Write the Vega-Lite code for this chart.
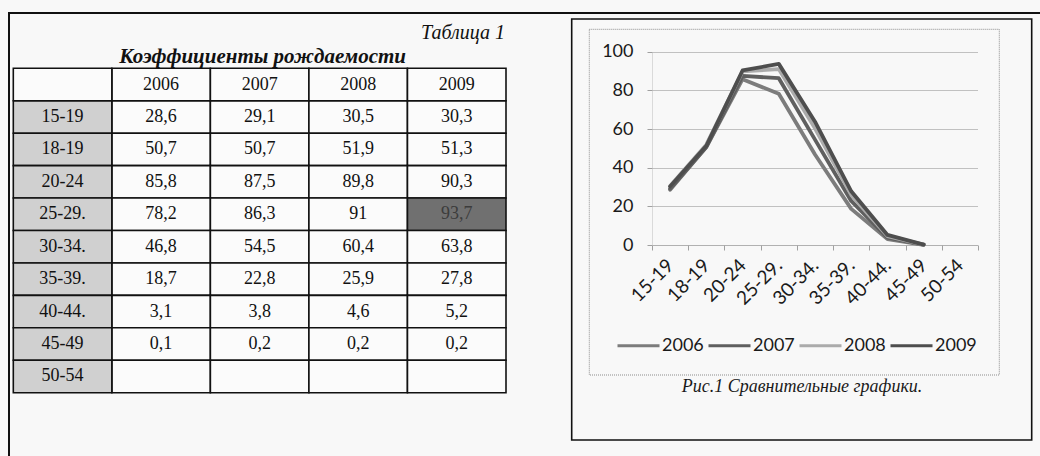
{
  "$schema": "https://vega.github.io/schema/vega-lite/v6.json",
  "width": 1037,
  "height": 449,
  "autosize": {"type": "none"},
  "padding": {"left": 9, "top": 13, "right": -6, "bottom": -6},
  "background": "#f8f8f8",
  "view": {"stroke": "#111111", "strokeWidth": 2},
  "config": {
    "locale": {"number": {"decimal": ",", "thousands": " ", "grouping": [3], "currency": ["", ""]}},
    "font": "Liberation Serif"
  },
  "datasets": {
    "rates": [
      {"age": "15-19", "year": "2006", "rate": 28.6},
      {"age": "15-19", "year": "2007", "rate": 29.1},
      {"age": "15-19", "year": "2008", "rate": 30.5},
      {"age": "15-19", "year": "2009", "rate": 30.3},
      {"age": "18-19", "year": "2006", "rate": 50.7},
      {"age": "18-19", "year": "2007", "rate": 50.7},
      {"age": "18-19", "year": "2008", "rate": 51.9},
      {"age": "18-19", "year": "2009", "rate": 51.3},
      {"age": "20-24", "year": "2006", "rate": 85.8},
      {"age": "20-24", "year": "2007", "rate": 87.5},
      {"age": "20-24", "year": "2008", "rate": 89.8},
      {"age": "20-24", "year": "2009", "rate": 90.3},
      {"age": "25-29.", "year": "2006", "rate": 78.2},
      {"age": "25-29.", "year": "2007", "rate": 86.3},
      {"age": "25-29.", "year": "2008", "rate": 91},
      {"age": "25-29.", "year": "2009", "rate": 93.7},
      {"age": "30-34.", "year": "2006", "rate": 46.8},
      {"age": "30-34.", "year": "2007", "rate": 54.5},
      {"age": "30-34.", "year": "2008", "rate": 60.4},
      {"age": "30-34.", "year": "2009", "rate": 63.8},
      {"age": "35-39.", "year": "2006", "rate": 18.7},
      {"age": "35-39.", "year": "2007", "rate": 22.8},
      {"age": "35-39.", "year": "2008", "rate": 25.9},
      {"age": "35-39.", "year": "2009", "rate": 27.8},
      {"age": "40-44.", "year": "2006", "rate": 3.1},
      {"age": "40-44.", "year": "2007", "rate": 3.8},
      {"age": "40-44.", "year": "2008", "rate": 4.6},
      {"age": "40-44.", "year": "2009", "rate": 5.2},
      {"age": "45-49", "year": "2006", "rate": 0.1},
      {"age": "45-49", "year": "2007", "rate": 0.2},
      {"age": "45-49", "year": "2008", "rate": 0.2},
      {"age": "45-49", "year": "2009", "rate": 0.2},
      {"age": "50-54", "year": "2006", "rate": null},
      {"age": "50-54", "year": "2007", "rate": null},
      {"age": "50-54", "year": "2008", "rate": null},
      {"age": "50-54", "year": "2009", "rate": null}
    ]
  },
  "layer": [
    {
      "data": {"values": [{"box": "textbox"}]},
      "mark": {"type": "rect", "fill": "transparent", "stroke": "#111111", "strokeWidth": 1.6},
      "encoding": {
        "x": {"field": "box", "type": "nominal", "scale": {"type": "band", "range": [562.7, 1022.7], "paddingInner": 0, "paddingOuter": 0}, "axis": null},
        "y": {"field": "box", "type": "nominal", "scale": {"type": "band", "range": [6, 427], "paddingInner": 0, "paddingOuter": 0}, "axis": null}
      }
    },
    {
      "data": {"values": [{"box": "chartarea"}]},
      "mark": {"type": "rect", "fill": "transparent", "stroke": "#8c8c8c", "strokeWidth": 1, "strokeDash": [1, 1]},
      "encoding": {
        "x": {"field": "box", "type": "nominal", "scale": {"type": "band", "range": [580.3, 990.3], "paddingInner": 0, "paddingOuter": 0}, "axis": null},
        "y": {"field": "box", "type": "nominal", "scale": {"type": "band", "range": [16.3, 362], "paddingInner": 0, "paddingOuter": 0}, "axis": null}
      }
    },
    {
      "data": {"name": "rates"},
      "transform": [{"joinaggregate": [{"op": "max", "field": "rate", "as": "maxRate"}]}],
      "mark": {"type": "rect", "stroke": "#111111", "strokeWidth": 1.6},
      "encoding": {
        "x": {"field": "year", "type": "nominal", "scale": {"type": "band", "domain": ["age", "2006", "2007", "2008", "2009"], "range": [4.3, 497], "paddingInner": 0, "paddingOuter": 0}, "axis": null},
        "y": {"field": "age", "type": "nominal", "scale": {"type": "band", "domain": ["header", "15-19", "18-19", "20-24", "25-29.", "30-34.", "35-39.", "40-44.", "45-49", "50-54"], "range": [55.3, 379.7], "paddingInner": 0, "paddingOuter": 0}, "axis": null},
        "fill": {"condition": {"test": "datum.rate === datum.maxRate", "value": "#707070"}, "value": "#fbfbfb"}
      }
    },
    {
      "data": {"name": "rates"},
      "transform": [{"aggregate": [{"op": "count", "as": "n"}], "groupby": ["year"]}],
      "mark": {"type": "rect", "stroke": "#111111", "strokeWidth": 1.6, "fill": "#fbfbfb"},
      "encoding": {
        "x": {"field": "year", "type": "nominal", "scale": {"type": "band", "domain": ["age", "2006", "2007", "2008", "2009"], "range": [4.3, 497], "paddingInner": 0, "paddingOuter": 0}, "axis": null},
        "y": {"datum": "header", "type": "nominal", "scale": {"type": "band", "domain": ["header", "15-19", "18-19", "20-24", "25-29.", "30-34.", "35-39.", "40-44.", "45-49", "50-54"], "range": [55.3, 379.7], "paddingInner": 0, "paddingOuter": 0}, "axis": null}
      }
    },
    {
      "data": {"name": "rates"},
      "transform": [{"aggregate": [{"op": "count", "as": "n"}], "groupby": ["age"]}],
      "mark": {"type": "rect", "stroke": "#111111", "strokeWidth": 1.6, "fill": "#d0d0d0"},
      "encoding": {
        "x": {"datum": "age", "type": "nominal", "scale": {"type": "band", "domain": ["age", "2006", "2007", "2008", "2009"], "range": [4.3, 497], "paddingInner": 0, "paddingOuter": 0}, "axis": null},
        "y": {"field": "age", "type": "nominal", "scale": {"type": "band", "domain": ["header", "15-19", "18-19", "20-24", "25-29.", "30-34.", "35-39.", "40-44.", "45-49", "50-54"], "range": [55.3, 379.7], "paddingInner": 0, "paddingOuter": 0}, "axis": null}
      }
    },
    {
      "data": {"values": [{"corner": ""}]},
      "mark": {"type": "rect", "stroke": "#111111", "strokeWidth": 1.6, "fill": "#fbfbfb"},
      "encoding": {
        "x": {"datum": "age", "type": "nominal", "scale": {"type": "band", "domain": ["age", "2006", "2007", "2008", "2009"], "range": [4.3, 497], "paddingInner": 0, "paddingOuter": 0}, "axis": null},
        "y": {"datum": "header", "type": "nominal", "scale": {"type": "band", "domain": ["header", "15-19", "18-19", "20-24", "25-29.", "30-34.", "35-39.", "40-44.", "45-49", "50-54"], "range": [55.3, 379.7], "paddingInner": 0, "paddingOuter": 0}, "axis": null}
      }
    },
    {
      "data": {"name": "rates"},
      "transform": [{"filter": "isValid(datum.rate)"}, {"joinaggregate": [{"op": "max", "field": "rate", "as": "maxRate"}]}],
      "mark": {"type": "text", "font": "Liberation Serif", "fontSize": 18, "baseline": "middle", "align": "center"},
      "encoding": {
        "x": {"field": "year", "type": "nominal", "bandPosition": 0.5, "scale": {"type": "band", "domain": ["age", "2006", "2007", "2008", "2009"], "range": [4.3, 497], "paddingInner": 0, "paddingOuter": 0}, "axis": null},
        "y": {"field": "age", "type": "nominal", "bandPosition": 0.5, "scale": {"type": "band", "domain": ["header", "15-19", "18-19", "20-24", "25-29.", "30-34.", "35-39.", "40-44.", "45-49", "50-54"], "range": [55.3, 379.7], "paddingInner": 0, "paddingOuter": 0}, "axis": null},
        "text": {"field": "rate", "type": "quantitative", "format": "~g"},
        "color": {"condition": {"test": "datum.rate === datum.maxRate", "value": "#3c3c3c"}, "value": "#111111"}
      }
    },
    {
      "data": {"name": "rates"},
      "transform": [{"aggregate": [{"op": "count", "as": "n"}], "groupby": ["year"]}],
      "mark": {"type": "text", "font": "Liberation Serif", "fontSize": 18, "baseline": "middle", "align": "center", "color": "#111111"},
      "encoding": {
        "x": {"field": "year", "type": "nominal", "bandPosition": 0.5, "scale": {"type": "band", "domain": ["age", "2006", "2007", "2008", "2009"], "range": [4.3, 497], "paddingInner": 0, "paddingOuter": 0}, "axis": null},
        "y": {"datum": "header", "type": "nominal", "bandPosition": 0.5, "scale": {"type": "band", "domain": ["header", "15-19", "18-19", "20-24", "25-29.", "30-34.", "35-39.", "40-44.", "45-49", "50-54"], "range": [55.3, 379.7], "paddingInner": 0, "paddingOuter": 0}, "axis": null},
        "text": {"field": "year", "type": "nominal"}
      }
    },
    {
      "data": {"name": "rates"},
      "transform": [{"aggregate": [{"op": "count", "as": "n"}], "groupby": ["age"]}],
      "mark": {"type": "text", "font": "Liberation Serif", "fontSize": 18, "baseline": "middle", "align": "center", "color": "#111111"},
      "encoding": {
        "x": {"datum": "age", "type": "nominal", "bandPosition": 0.5, "scale": {"type": "band", "domain": ["age", "2006", "2007", "2008", "2009"], "range": [4.3, 497], "paddingInner": 0, "paddingOuter": 0}, "axis": null},
        "y": {"field": "age", "type": "nominal", "bandPosition": 0.5, "scale": {"type": "band", "domain": ["header", "15-19", "18-19", "20-24", "25-29.", "30-34.", "35-39.", "40-44.", "45-49", "50-54"], "range": [55.3, 379.7], "paddingInner": 0, "paddingOuter": 0}, "axis": null},
        "text": {"field": "age", "type": "nominal"}
      }
    },
    {
      "data": {"values": [{"caption": "Коэффициенты рождаемости"}]},
      "mark": {"type": "text", "font": "Liberation Serif", "fontSize": 21, "fontWeight": "bold", "fontStyle": "italic", "baseline": "alphabetic", "align": "center", "color": "#111111", "dx": 3, "dy": -5},
      "encoding": {
        "x": {"datum": "2007", "type": "nominal", "bandPosition": 0.5, "scale": {"type": "band", "domain": ["age", "2006", "2007", "2008", "2009"], "range": [4.3, 497], "paddingInner": 0, "paddingOuter": 0}, "axis": null},
        "y": {"datum": "header", "type": "nominal", "bandPosition": 0, "scale": {"type": "band", "domain": ["header", "15-19", "18-19", "20-24", "25-29.", "30-34.", "35-39.", "40-44.", "45-49", "50-54"], "range": [55.3, 379.7], "paddingInner": 0, "paddingOuter": 0}, "axis": null},
        "text": {"field": "caption", "type": "nominal"}
      }
    },
    {
      "data": {"values": [{"caption": "Таблица 1"}]},
      "mark": {"type": "text", "font": "Liberation Serif", "fontSize": 20, "fontStyle": "italic", "baseline": "alphabetic", "align": "right", "color": "#111111", "dx": -1, "dy": -29},
      "encoding": {
        "x": {"datum": "2009", "type": "nominal", "bandPosition": 1, "scale": {"type": "band", "domain": ["age", "2006", "2007", "2008", "2009"], "range": [4.3, 497], "paddingInner": 0, "paddingOuter": 0}, "axis": null},
        "y": {"datum": "header", "type": "nominal", "bandPosition": 0, "scale": {"type": "band", "domain": ["header", "15-19", "18-19", "20-24", "25-29.", "30-34.", "35-39.", "40-44.", "45-49", "50-54"], "range": [55.3, 379.7], "paddingInner": 0, "paddingOuter": 0}, "axis": null},
        "text": {"field": "caption", "type": "nominal"}
      }
    },
    {
      "data": {"name": "rates"},
      "mark": {"type": "line", "strokeWidth": 3.8, "strokeJoin": "round", "strokeCap": "round"},
      "encoding": {
        "x": {"field": "age", "type": "nominal", "bandPosition": 0.5,
          "scale": {"type": "band", "domain": ["15-19", "18-19", "20-24", "25-29.", "30-34.", "35-39.", "40-44.", "45-49", "50-54"], "range": [643, 969], "paddingInner": 0, "paddingOuter": 0},
          "axis": {"orient": "bottom", "offset": -217, "labelAngle": -45, "labelAlign": "right", "labelBaseline": "middle", "labelFont": "Lato", "labelFontSize": 19, "labelColor": "#1a1a1a", "labelPadding": 12, "labelOverlap": false,
            "tickBand": "extent", "tickSize": 5, "tickColor": "#a0a0a0", "domainColor": "#a0a0a0", "domainDash": [1, 1], "grid": false,
            "title": "Рис.1 Сравнительные графики.", "titleFont": "Liberation Serif", "titleFontSize": 18, "titleFontStyle": "italic", "titleFontWeight": "normal", "titleColor": "#1a1a1a",
            "titleX": 792.5, "titleY": 146, "titleAlign": "center", "titleBaseline": "alphabetic"}},
        "y": {"field": "rate", "type": "quantitative",
          "scale": {"domain": [0, 100], "range": [232, 38.7], "nice": false, "zero": true},
          "axis": {"orient": "left", "offset": -643, "values": [0, 20, 40, 60, 80, 100], "domain": true, "domainColor": "#bdbdbd", "domainDash": [1, 1],
            "ticks": true, "tickSize": 5, "tickColor": "#a0a0a0", "labelPadding": 14, "labelFont": "Lato", "labelFontSize": 18, "labelColor": "#1a1a1a",
            "grid": true, "gridColor": "#8a8a8a", "gridDash": [1, 1], "gridWidth": 1, "title": null}},
        "color": {"field": "year", "type": "nominal",
          "scale": {"domain": ["2006", "2007", "2008", "2009"], "range": ["#7c7c7c", "#5f5f5f", "#ababab", "#4e4e4e"]},
          "legend": {"orient": "none", "legendX": 607, "legendY": 310, "direction": "horizontal", "title": null, "symbolType": "stroke", "symbolSize": 1764, "symbolStrokeWidth": 3,
            "labelFont": "Lato", "labelFontSize": 18, "labelColor": "#1a1a1a", "columnPadding": -2, "labelOffset": 1}}
      }
    }
  ],
  "resolve": {
    "scale": {"x": "independent", "y": "independent", "color": "independent"},
    "axis": {"x": "independent", "y": "independent"},
    "legend": {"color": "independent"}
  }
}
